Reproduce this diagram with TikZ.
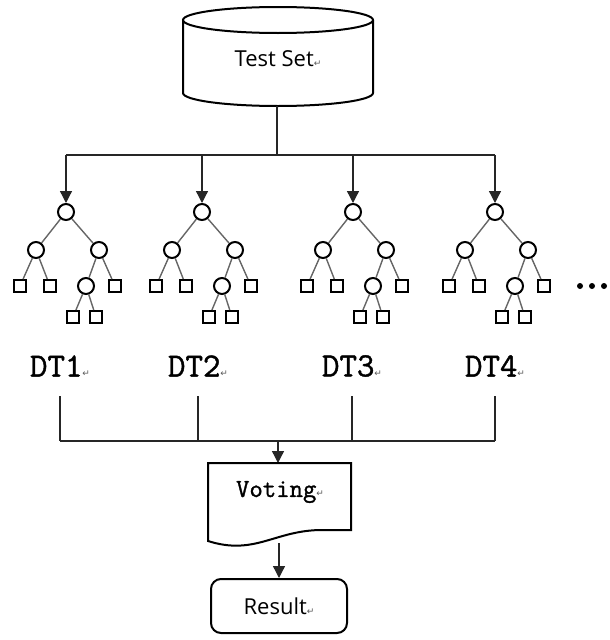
\documentclass[tikz,border=0pt]{standalone}
\usepackage{fontspec}
\newfontfamily\sansf{Open Sans}
\newfontfamily\dejavu{DejaVu Sans}
\newfontfamily\monob{Latin Modern Mono}[FakeBold=1.2]
\usetikzlibrary{arrows.meta}
\newcommand\pmark{{\dejavu\fontsize{9}{9}\selectfont\textcolor{black!65}{↵}}}
\begin{document}
\begin{tikzpicture}[x=1pt,y=-1pt,
  treeedge/.style={draw=black!60, line width=1.4pt},
  inner/.style={circle, draw=black, line width=2pt, fill=white, minimum size=16pt, inner sep=0pt},
  leaf/.style={rectangle, draw=black, line width=2pt, fill=white, minimum size=12pt, inner sep=0pt},
  conn/.style={draw=black!85, line width=1.3pt},
  arr/.style={conn, -{Triangle[width=12pt,length=12pt]}},
  box/.style={draw=black, line width=2pt, fill=white},
  sanslabel/.style={font=\sansf\fontsize{22}{22}\selectfont},
  dtlabel/.style={font=\monob\fontsize{34}{34}\selectfont},
  votelabel/.style={font=\monob\fontsize{26}{26}\selectfont}
  ]
\useasboundingbox (0,0) rectangle (610,640);
% test set cylinder
\draw[box] (183,20) -- (183,93) .. controls (183,100.2) and (225.5,106) .. (278,106)
  .. controls (330.5,106) and (373,100.2) .. (373,93) -- (373,20);
\draw[box] (278,20) ellipse [x radius=95, y radius=13];
\node[sanslabel] (ts) at (278,59) {Test Set\pmark};
\coordinate (cb) at (277,106);
\coordinate (hub) at (277,155);
\draw[conn] (cb) -- (hub);
% trees
\foreach \i/\x in {1/66,2/202,3/353,4/495}{
  \node[inner] (t\i r) at (\x,212) {};
  \node[inner] (t\i a) at (\x-30,250) {};
  \node[inner] (t\i b) at (\x+33,250) {};
  \node[leaf] (t\i a1) at (\x-46,286) {};
  \node[leaf] (t\i a2) at (\x-16,286) {};
  \node[inner] (t\i b1) at (\x+20,286) {};
  \node[leaf] (t\i b2) at (\x+49,286) {};
  \node[leaf] (t\i c1) at (\x+7,317) {};
  \node[leaf] (t\i c2) at (\x+30,317) {};
  \draw[treeedge] (t\i r) -- (t\i a);
  \draw[treeedge] (t\i r) -- (t\i b);
  \draw[treeedge] (t\i a) -- (t\i a1);
  \draw[treeedge] (t\i a) -- (t\i a2);
  \draw[treeedge] (t\i b) -- (t\i b1);
  \draw[treeedge] (t\i b) -- (t\i b2);
  \draw[treeedge] (t\i b1) -- (t\i c1);
  \draw[treeedge] (t\i b1) -- (t\i c2);
  \coordinate (j\i) at (\x,155);
  \draw[arr] (j\i) -- (t\i r);
}
\draw[conn] (j1) -- (j4);
% dots
\foreach \dx in {580,592,604}{\fill (\dx,286) circle (3);}
% DT labels
\foreach \i/\x in {1/60,2/198,3/352,4/495}{
  \node[dtlabel] (d\i) at (\x,366) {DT\i\pmark};
  \coordinate (u\i) at (\x,396);
  \coordinate (v\i) at (\x,441);
  \draw[conn] (u\i) -- (v\i);
}
\draw[conn] (v1) -- (v4);
\coordinate (hub2) at (278,441);
\coordinate (vtop) at (278,463);
\draw[arr] (hub2) -- (vtop);
% voting document
\draw[box] (208,463) -- (351,463) -- (351,530) -- (322,530)
  .. controls (275,530) and (255,556) .. (208,541) -- cycle;
\node[votelabel] (vt) at (280,492) {Voting\pmark};
\coordinate (vbot) at (279,543);
% result
\node[box, rounded corners=10pt, minimum width=136pt, minimum height=54pt, sanslabel] (res) at (279,606) {Result\pmark};
\draw[arr] (vbot) -- (res.north);
\end{tikzpicture}
\end{document}
